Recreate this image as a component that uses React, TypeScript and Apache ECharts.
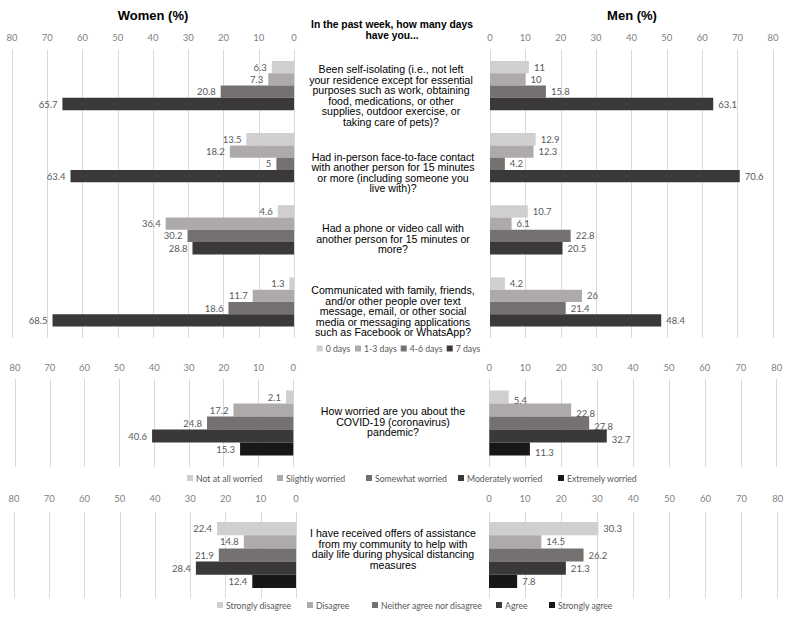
import React, { useEffect, useRef } from "react";
import * as echarts from "echarts";

// ---------- DATA ----------
const dayLabels = ["0 days", "1-3 days", "4-6 days", "7 days"];
const dayQuestions = ["Self-isolating", "In-person contact", "Phone or video call", "Communicated by text/social"];
const women0Days = [6.3, 13.5, 4.6, 1.3];
const women13Days = [7.3, 18.2, 36.4, 11.7];
const women46Days = [20.8, 5, 30.2, 18.6];
const women7Days = [65.7, 63.4, 28.8, 68.5];
const men0Days = [11, 12.9, 10.7, 4.2];
const men13Days = [10, 12.3, 6.1, 26];
const men46Days = [15.8, 4.2, 22.8, 21.4];
const men7Days = [63.1, 70.6, 20.5, 48.4];

const worryLevels = ["Not at all worried", "Slightly worried", "Somewhat worried", "Moderately worried", "Extremely worried"];
const womenWorry = [2.1, 17.2, 24.8, 40.6, 15.3];
const menWorry = [5.4, 22.8, 27.8, 32.7, 11.3];

const agreeLevels = ["Strongly disagree", "Disagree", "Neither agree nor disagree", "Agree", "Strongly agree"];
const womenAssist = [22.4, 14.8, 21.9, 28.4, 12.4];
const menAssist = [30.3, 14.5, 26.2, 21.3, 7.8];

const axisMin = 0;
const axisMax = 80;
const axisStep = 10;

const questionTexts = [
  "Been self-isolating (i.e., not left\nyour residence except for essential\npurposes such as work, obtaining\nfood, medications, or other\nsupplies, outdoor exercise, or\ntaking care of pets)?",
  "Had in-person face-to-face contact\nwith another person for 15 minutes\nor more (including someone you\nlive with)?",
  "Had a phone or video call with\nanother person for 15 minutes or\nmore?",
  "Communicated with family, friends,\nand/or other people over text\nmessage, email, or other social\nmedia or messaging applications\nsuch as Facebook or WhatsApp?",
];
const worryQuestion = "How worried are you about the\nCOVID-19 (coronavirus)\npandemic?";
const assistQuestion = "I have received offers of assistance\nfrom my community to help with\ndaily life during physical distancing\nmeasures";
const titleText = "In the past week, how many days\nhave you...";

// ---------- STYLE ----------
const greys5 = ["#D0CECE", "#AEAAAA", "#767171", "#3A3838", "#181717"];
const labelFont = "Lato, 'Open Sans', sans-serif";
const textFont = "'Liberation Sans', Arial, sans-serif";

export default function App() {
  const ref = useRef<HTMLDivElement>(null);

  useEffect(() => {
    if (!ref.current) return;
    const chart = echarts.init(ref.current, undefined, { renderer: "svg" });

    const grids = [
      { left: 12, top: 49.5, width: 282, height: 288.5 },
      { left: 490, top: 49.5, width: 283, height: 288.5 },
      { left: 15, top: 379, width: 278.3, height: 88 },
      { left: 489.3, top: 379, width: 287.4, height: 88 },
      { left: 14, top: 512, width: 282, height: 86 },
      { left: 489, top: 512, width: 288.7, height: 86 },
    ];
    const margins = [7, 7, 7, 7, 8.5, 8.5];

    const xAxes = grids.map((_, i) => ({
      type: "value",
      gridIndex: i,
      min: axisMin,
      max: axisMax,
      interval: axisStep,
      inverse: i % 2 === 0,
      position: "top",
      axisLine: { show: false },
      axisTick: { show: false },
      splitLine: { show: true, lineStyle: { color: "#D9D9D9", width: 1 } },
      axisLabel: { color: "#7F7F7F", fontSize: 9.5, fontFamily: labelFont, margin: margins[i] },
    }));

    const yAxes = grids.map((_, i) => ({
      type: "category",
      gridIndex: i,
      inverse: true,
      show: false,
      data: i < 2 ? dayQuestions : i < 4 ? ["Worry"] : ["Assistance"],
    }));

    const mkLabel = (women: boolean, offsetY = 0) => ({
      show: true,
      position: women ? "left" : "right",
      distance: 5,
      color: "#595959",
      fontSize: 9.5,
      fontFamily: labelFont,
      offset: [0, offsetY],
    });

    const series: any[] = [];
    const womenDays = [women0Days, women13Days, women46Days, women7Days];
    const menDays = [men0Days, men13Days, men46Days, men7Days];
    dayLabels.forEach((name, k) => {
      series.push({
        type: "bar", name, xAxisIndex: 0, yAxisIndex: 0, data: womenDays[k],
        barWidth: 12.3, barGap: "0%", itemStyle: { color: greys5[k] }, label: mkLabel(true),
      });
    });
    dayLabels.forEach((name, k) => {
      series.push({
        type: "bar", name, xAxisIndex: 1, yAxisIndex: 1, data: menDays[k],
        barWidth: 12.3, barGap: "0%", itemStyle: { color: greys5[k] }, label: mkLabel(false),
      });
    });
    worryLevels.forEach((name, k) => {
      series.push({
        type: "bar", name, xAxisIndex: 2, yAxisIndex: 2, data: [womenWorry[k]],
        barWidth: 13, barGap: "0%", itemStyle: { color: greys5[k] }, label: mkLabel(true),
      });
      series.push({
        type: "bar", name, xAxisIndex: 3, yAxisIndex: 3, data: [menWorry[k]],
        barWidth: 13, barGap: "0%", itemStyle: { color: greys5[k] }, label: mkLabel(false, 3),
      });
    });
    agreeLevels.forEach((name, k) => {
      series.push({
        type: "bar", name, xAxisIndex: 4, yAxisIndex: 4, data: [womenAssist[k]],
        barWidth: 13.2, barGap: "0%", itemStyle: { color: greys5[k] }, label: mkLabel(true),
      });
      series.push({
        type: "bar", name, xAxisIndex: 5, yAxisIndex: 5, data: [menAssist[k]],
        barWidth: 13.2, barGap: "0%", itemStyle: { color: greys5[k] }, label: mkLabel(false),
      });
    });

    const legendPos: { names: string[]; xs: number[]; y: number }[] = [
      { names: dayLabels, xs: [316.7, 355, 400.7, 446.7], y: 349.5 },
      { names: worryLevels, xs: [187, 277, 366, 458, 558], y: 479 },
      { names: agreeLevels, xs: [217, 307, 372, 496, 549], y: 606 },
    ];
    const legends: any[] = [];
    legendPos.forEach((g) => {
      g.names.forEach((n, k) => {
        legends.push({
          data: [n],
          left: g.xs[k],
          top: g.y - 5.5,
          padding: 0,
          itemWidth: 6,
          itemHeight: 6,
          icon: "rect",
          selectedMode: false,
          textStyle: { fontSize: 8.7, color: "#595959", fontFamily: labelFont, padding: [0, 0, 0, -2] },
        });
      });
    });

    const txt = (text: string, x: number, firstLineY: number, opts: any = {}) => {
      const lh = opts.lineHeight ?? 10.5;
      return {
        type: "text",
        x,
        y: firstLineY - lh / 2,
        style: {
          text,
          fill: "#000",
          fontFamily: textFont,
          fontSize: opts.fontSize ?? 10.6,
          fontWeight: opts.fontWeight ?? "normal",
          lineHeight: lh,
          align: "center",
          verticalAlign: "top",
        },
      };
    };

    const qFirstLines = [69, 156.5, 228, 290];
    const graphic: any[] = [
      txt("Women (%)", 153, 15, { fontSize: 13, fontWeight: "bold", lineHeight: 15 }),
      txt("Men (%)", 632, 15, { fontSize: 13, fontWeight: "bold", lineHeight: 15 }),
      txt(titleText, 392, 24, { fontSize: 10.3, fontWeight: "bold", lineHeight: 11 }),
      ...questionTexts.map((t, i) => txt(t, i === 0 ? 391 : 393, qFirstLines[i])),
      txt(worryQuestion, 393, 411),
      txt(assistQuestion, 393, 533),
    ];

    chart.setOption({
      animation: false,
      backgroundColor: "#ffffff",
      grid: grids,
      xAxis: xAxes,
      yAxis: yAxes,
      series,
      legend: legends,
      graphic,
    });

    return () => chart.dispose();
  }, []);

  return <div ref={ref} style={{ position: "absolute", left: 0, top: 0, width: 791, height: 618 }} />;
}
